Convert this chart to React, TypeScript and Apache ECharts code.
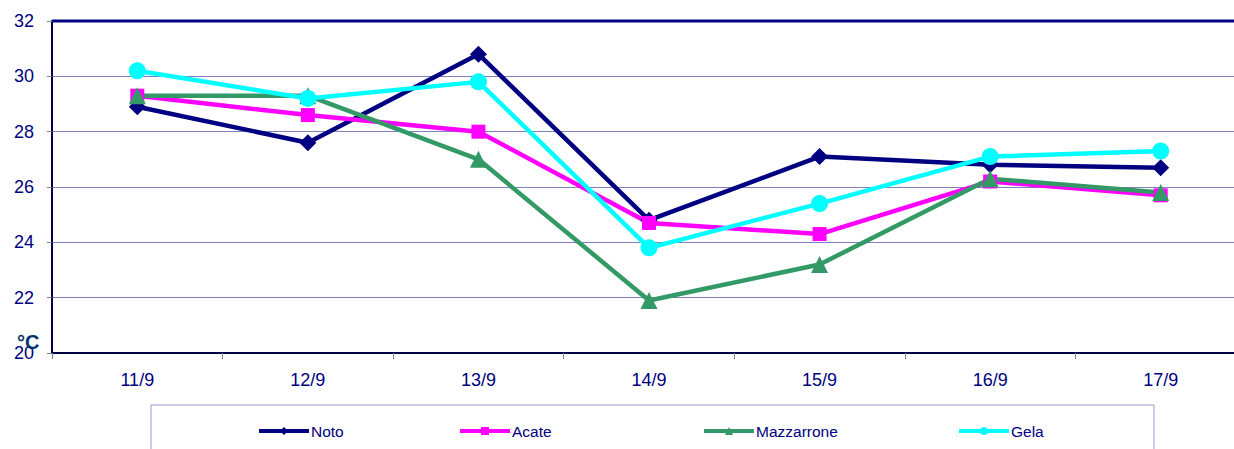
import React, { useEffect, useRef } from "react";
import * as echarts from "echarts";

const categories = ["11/9", "12/9", "13/9", "14/9", "15/9", "16/9", "17/9"];
const noto = [28.9, 27.6, 30.8, 24.8, 27.1, 26.8, 26.7];
const acate = [29.3, 28.6, 28.0, 24.7, 24.3, 26.2, 25.7];
const mazzarrone = [29.3, 29.3, 27.0, 21.9, 23.2, 26.3, 25.8];
const gela = [30.2, 29.2, 29.8, 23.8, 25.4, 27.1, 27.3];
const seriesNames = ["Noto", "Acate", "Mazzarrone", "Gela"];
const unitLabel = "°C";

export default function App() {
  const ref = useRef<HTMLDivElement>(null);
  useEffect(() => {
    if (!ref.current) return;
    const chart = echarts.init(ref.current, null, { renderer: "svg" });
    const font = "Arial, 'Liberation Sans', sans-serif";
    const mk = (name: string, data: number[], color: string, symbol: string, size: number) => ({
      name,
      type: "line",
      data,
      symbol,
      symbolSize: size,
      showSymbol: true,
      lineStyle: { color, width: 4.5 },
      itemStyle: { color },
      z: 3,
    });
    const legendLefts = [257, 458, 702, 957];
    chart.setOption({
      animation: false,
      backgroundColor: "#ffffff",
      grid: { left: 52, top: 21, right: 4, height: 332, containLabel: false },
      xAxis: {
        type: "category",
        data: categories,
        boundaryGap: true,
        axisLine: { show: true, lineStyle: { color: "#000040", width: 2 } },
        axisTick: { show: true, length: 6, lineStyle: { color: "#808080", width: 1 } },
        axisLabel: { color: "#000080", fontSize: 18, fontFamily: font, margin: 18 },
        splitLine: { show: false },
      },
      yAxis: {
        type: "value",
        min: 20,
        max: 32,
        interval: 2,
        axisLine: { show: true, lineStyle: { color: "#000040", width: 2 } },
        axisTick: { show: true, length: 5, lineStyle: { color: "#808080", width: 1 } },
        axisLabel: { color: "#000080", fontSize: 18, fontFamily: font, margin: 18 },
        splitLine: { show: true, lineStyle: { color: "#8080C0", width: 1 } },
      },
      legend: seriesNames.map((n, i) => ({
        data: [n],
        left: legendLefts[i],
        top: 423,
        itemWidth: 50,
        itemHeight: 10,
        itemGap: 0,
        padding: 0,
        lineStyle: { width: 4 },
        textStyle: { color: "#000080", fontSize: 15.5, fontFamily: font, padding: [0, 0, 0, -3] },
      })),
      graphic: [
        {
          type: "line",
          shape: { x1: 52, y1: 21, x2: 1250, y2: 21 },
          style: { stroke: "#000080", lineWidth: 3 },
          z: 10,
        },
        {
          type: "rect",
          shape: { x: 151, y: 405, width: 1003, height: 60 },
          style: { fill: "none", stroke: "#9999CC", lineWidth: 1 },
          z: 0,
        },
        {
          type: "text",
          x: 17,
          y: 332,
          style: { text: unitLabel, fill: "#003366", fontSize: 20, fontWeight: "bold", fontFamily: font },
          z: 10,
        },
      ],
      series: [
        mk("Noto", noto, "#000080", "diamond", 17),
        mk("Acate", acate, "#FF00FF", "rect", 14),
        mk("Mazzarrone", mazzarrone, "#339966", "triangle", 17),
        mk("Gela", gela, "#00FFFF", "circle", 17),
      ],
    });
    return () => chart.dispose();
  }, []);
  return (
    <div
      ref={ref}
      style={{ position: "fixed", left: 0, top: 0, width: 1250, height: 449 }}
    />
  );
}
